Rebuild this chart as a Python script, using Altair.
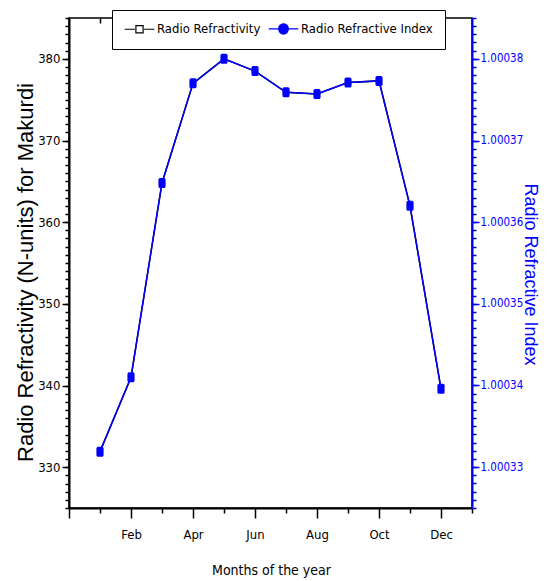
import altair as alt
import pandas as pd

# ---- data ----
months = ["Jan", "Feb", "Mar", "Apr", "May", "Jun", "Jul", "Aug", "Sep", "Oct", "Nov", "Dec"]
month_num = [1, 2, 3, 4, 5, 6, 7, 8, 9, 10, 11, 12]
refractivity = [331.9, 341.0, 364.8, 377.0, 380.0, 378.5, 375.9, 375.7, 377.1, 377.3, 362.0, 339.6]
refractive_index = [1.0003319, 1.0003410, 1.0003648, 1.0003770, 1.0003800, 1.0003785,
                    1.0003759, 1.0003757, 1.0003771, 1.0003773, 1.0003620, 1.0003396]
series_names = ["Radio Refractivity", "Radio Refractive Index"]

left_ticks = [330, 340, 350, 360, 370, 380]
right_ticks = [1.00033, 1.00034, 1.00035, 1.00036, 1.00037, 1.00038]
x_major = [0, 2, 4, 6, 8, 10, 12]
x_minor = [1, 3, 5, 7, 9, 11, 13]

df = pd.DataFrame({"m": month_num, "month": months, "N": refractivity, "n": refractive_index})
legend_df = pd.DataFrame({"series": series_names, "m": [-5, -5]})

NARROW = "Liberation Sans Narrow, Arial Narrow, DejaVu Sans Condensed, Liberation Sans, sans-serif"
REG = "Liberation Sans, Arial, sans-serif"
BLUE = "#0000ff"

xs = alt.Scale(domain=[0, 13], nice=False, zero=False)
ysN = alt.Scale(domain=[325, 385], nice=False, zero=False)
ysI = alt.Scale(domain=[1.000325, 1.000385], nice=False, zero=False)

month_arr = "[" + ",".join("'%s'" % m for m in months) + "]"
x_label_expr = "datum.value < 1 ? '' : " + month_arr + "[datum.value - 1]"

ax_x_major = alt.Axis(orient="bottom", values=x_major, labelExpr=x_label_expr, grid=False,
                      tickSize=10, tickWidth=1.5, tickColor="black", domainColor="black",
                      domainWidth=2, labelFont=NARROW, labelFontSize=13, labelColor="black",
                      labelPadding=10, title="Months of the year", titleFont=NARROW,
                      titleFontSize=14, titleFontWeight="normal", titleColor="black",
                      titleX=202, titleY=66, titleAlign="center", titleBaseline="alphabetic")
ax_x_minor = alt.Axis(orient="bottom", values=x_minor, grid=False, labels=False, domain=False,
                      tickSize=5, tickWidth=1.5, tickColor="black", title=None)
ax_x_top = alt.Axis(orient="top", values=month_num, grid=False, labels=False, domain=False,
                    tickSize=5, tickWidth=1.5, tickColor="black", offset=-5, title=None)

ax_yN_major = alt.Axis(orient="left", values=left_ticks, grid=False, tickSize=7, tickWidth=1.5,
                       tickColor="black", domainColor="black", domainWidth=2,
                       labelFont=NARROW, labelFontSize=13, labelColor="black", labelPadding=2,
                       title="Radio Refractivity (N-units) for Makurdi", titleFont=REG,
                       titleFontSize=22, titleFontWeight="normal", titleColor="black",
                       titleAngle=270, titleAlign="center", titleBaseline="alphabetic",
                       titleX=-37, titleY=254)
ax_yN_minor = alt.Axis(orient="left", values=list(range(325, 386)), grid=False, labels=False,
                       domain=False, tickSize=4, tickWidth=1.5, tickColor="black", title=None)
ax_yI_major = alt.Axis(orient="right", values=right_ticks, format=".5f", grid=False, tickSize=7,
                       tickWidth=1.5, tickColor=BLUE, domainColor=BLUE, domainWidth=2,
                       labelFont=NARROW, labelFontSize=11.5, labelColor=BLUE, labelPadding=1,
                       title="Radio Refractive Index", titleFont=REG, titleFontSize=18,
                       titleFontWeight="normal", titleColor=BLUE, titleAngle=90,
                       titleAlign="center", titleBaseline="alphabetic", titleX=52, titleY=256)
ax_yI_minor = alt.Axis(orient="right", values=[round(1.000325 + i * 1e-6, 7) for i in range(61)],
                       grid=False, labels=False, domain=False, tickSize=4, tickWidth=1.5,
                       tickColor=BLUE, title=None)

base = alt.Chart(df)

line_N = base.mark_line(color="black", strokeWidth=1.5).encode(
    x=alt.X("m:Q", scale=xs, axis=ax_x_major),
    y=alt.Y("N:Q", scale=ysN, axis=ax_yN_major),
)
pts_N = base.mark_point(shape="square", size=30, color="black", filled=False, strokeWidth=1).encode(
    x=alt.X("m:Q", scale=xs, axis=ax_x_minor),
    y=alt.Y("N:Q", scale=ysN, axis=ax_yN_minor),
)
line_I = base.mark_line(color=BLUE, strokeWidth=1.5).encode(
    x=alt.X("m:Q", scale=xs, axis=ax_x_top),
    y=alt.Y("n:Q", scale=ysI, axis=ax_yI_major),
)
marker = ("M-0.7,-0.7Q-0.7,-1 -0.4,-1L0.4,-1Q0.7,-1 0.7,-0.7L0.7,0.7Q0.7,1 0.4,1"
          "L-0.4,1Q-0.7,1 -0.7,0.7Z")
pts_I = base.mark_point(shape=marker, size=100, color=BLUE, filled=True, opacity=1).encode(
    x=alt.X("m:Q", scale=xs, axis=None),
    y=alt.Y("n:Q", scale=ysI, axis=ax_yI_minor),
)

# legend symbols "—□—" and "—●—" (path units scaled by sqrt(64)/2 = 4 px), drawn right of anchor
sym1 = "M-1.45,0L1.1,0M3.4,0L5.95,0M1.35,-0.9L3.15,-0.9L3.15,0.9L1.35,0.9Z"
sym2 = "M-1.45,0L1.05,0M3.45,0L5.95,0M1.05,0A1.2,1.3 0 1,0 3.45,0A1.2,1.3 0 1,0 1.05,0Z"
leg = alt.Legend(orient="none", legendX=43, legendY=-8, direction="horizontal", title=None,
                 strokeColor="black", fillColor="white", padding=12, columnPadding=5,
                 labelOffset=20, symbolOffset=0, symbolSize=64, symbolStrokeWidth=1.2,
                 labelFont=NARROW, labelFontSize=13, labelColor="black", labelLimit=400)
legend_layer = alt.Chart(legend_df).mark_point(clip=True, size=64, strokeWidth=1.2, opacity=1).encode(
    x=alt.X("m:Q", scale=xs, axis=None),
    shape=alt.Shape("series:N", scale=alt.Scale(domain=series_names, range=[sym1, sym2]), legend=leg),
    fill=alt.Fill("series:N", scale=alt.Scale(domain=series_names, range=["white", BLUE]), legend=leg),
    stroke=alt.Stroke("series:N", scale=alt.Scale(domain=series_names, range=["black", BLUE]), legend=leg),
)

chart = alt.layer(line_N, pts_N, line_I, pts_I, legend_layer).resolve_scale(
    y="independent"
).resolve_axis(x="independent", y="independent").properties(
    width=403, height=490,
    autosize=alt.AutoSizeParams(type="none"),
    padding={"left": 61, "top": 10, "right": 67, "bottom": 73},
).configure_view(stroke="black", strokeWidth=1.5)

chart.save("out.html", embed_options={"renderer": "svg", "actions": False})
